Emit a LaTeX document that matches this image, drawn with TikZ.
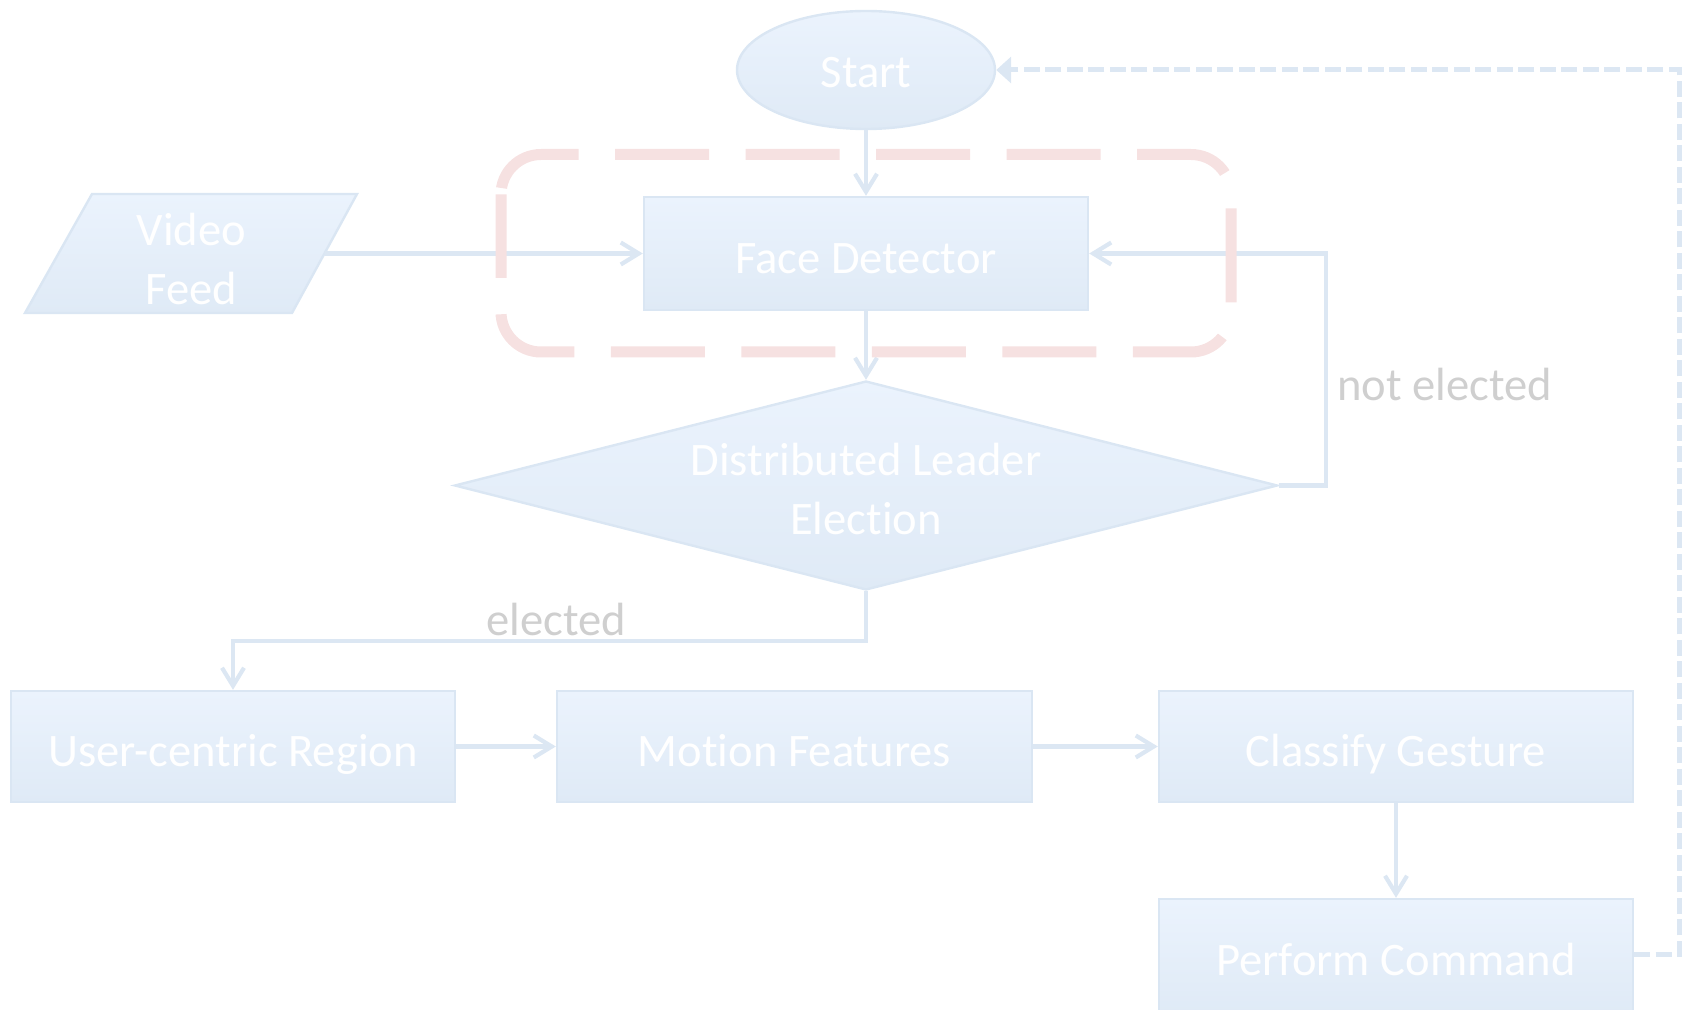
\documentclass[tikz,border=0pt]{standalone}
\usepackage{fontspec}
\setmainfont{Carlito}[Ligatures=NoCommon]
\usetikzlibrary{shapes.geometric,arrows.meta}
\definecolor{boxtop}{HTML}{EBF3FD}
\definecolor{boxbot}{HTML}{DFEAF6}
\definecolor{boxline}{HTML}{DAE6F3}
\definecolor{wire}{HTML}{DCE7F3}
\definecolor{framered}{HTML}{F6E1E1}
\definecolor{labelgray}{HTML}{CFCFCF}
\begin{document}
\begin{tikzpicture}[x=0.5pt,y=-0.5pt,
  every node/.style={font=\fontsize{23.3}{29.5}\selectfont},
  block/.style={draw=boxline, line width=1.2pt, top color=boxtop, bottom color=boxbot,
    text=white, inner sep=0pt, align=center},
  procbox/.style={block, rectangle, minimum width=#1, minimum height=55.5pt,
    text height=20pt, text depth=0pt},
  wirearrow/.style={draw=wire, line width=2.1pt, -{Straight Barb[length=9pt,width=11pt]}},
  returnarrow/.style={draw=wire, line width=2.5pt, dash pattern=on 8pt off 2.75pt,
    -{Triangle[length=7.5pt,width=13pt]}},
  tag/.style={text=labelgray, inner sep=0pt}
]
\useasboundingbox (0,0) rectangle (1682,1010);
\clip (0,0) rectangle (1682,1010);

% input parallelogram
\path[draw=boxline, line width=1.2pt, top color=boxtop, bottom color=boxbot]
  (92,194) -- (357,194) -- (292,313) -- (25,313) -- cycle;
\node[text=white, align=center, inner sep=0pt] (video) at (191.5,258.5) {Video\\Feed};
\coordinate (vfR) at (325,253.5);

% flow nodes
\node[block, ellipse, minimum width=129pt, minimum height=59pt,
  text height=18pt, text depth=0pt] (start) at (866,70) {Start};
\node[procbox=222pt, minimum height=56.5pt] (face) at (866,253.5) {Face Detector};
\node[block, diamond, aspect=4, minimum width=411.5pt, minimum height=104.5pt,
  text height=49.5pt, text depth=0pt]
  (dec) at (866,485.5) {Distributed Leader\\Election};
\node[procbox=222pt] (user) at (233,746.5) {User-centric Region};
\node[procbox=237.5pt] (motion) at (794.5,746.5) {Motion Features};
\node[procbox=237pt] (classify) at (1396,746.5) {Classify Gesture};
\node[procbox=237pt, minimum height=58pt, text height=18pt] (perform) at (1396,957) {Perform Command};

% connectors
\draw[wirearrow] (start.south) -- (face.north);
\draw[wirearrow] (vfR) -- (face.west);
\draw[wirearrow] (face.south) -- (dec.north);
\coordinate (loopR) at (1326,253.5);
\draw[wirearrow] (dec.east) -| (loopR) -- (face.east);
\draw[wirearrow] (dec.south) -- ++(0,50) -| (user.north);
\draw[wirearrow] (user.east) -- (motion.west);
\draw[wirearrow] (motion.east) -- (classify.west);
\draw[wirearrow] (classify.south) -- (perform.north);
\coordinate (backR) at (1679.5,954.5);
\draw[returnarrow] ([yshift=1.25pt]perform.east) -- (backR) |- (start.east);

% branch labels
\node[tag, anchor=west] (nelab) at (1337,384) {not elected};
\node[tag] (elab) at (556,619) {elected};

% dashed frame around the detector stage (open path, ends where it starts)
\draw[framered, line width=5.5pt, dash pattern=on 47pt off 18.25pt, dash phase=62pt,
  rounded corners=20pt]
  (501,194.5) -- (501,154.5) -- (1231,154.5) -- (1231,352) -- (501,352) -- (501,194.5);
\end{tikzpicture}
\end{document}
